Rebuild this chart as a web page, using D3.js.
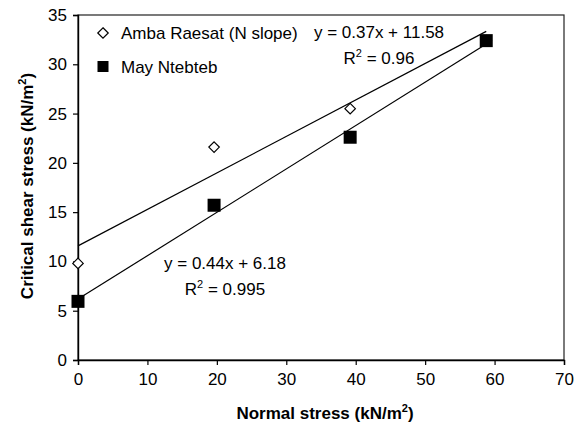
<!DOCTYPE html>
<html>
<head>
<meta charset="utf-8">
<script src="https://cdn.jsdelivr.net/npm/d3@7"></script>
<style>
body { margin: 0; background: #fff; }
text { font-family: "Liberation Sans", Arial, sans-serif; }
</style>
</head>
<body>
<svg id="chart" width="584" height="430"></svg>
<script>
// data
var normalStress = [0, 19.6, 39.2, 58.8];
var ambaShear = [9.8, 21.6, 25.5, 32.4];
var mayShear = [5.95, 15.7, 22.6, 32.4];
var ambaFit = {slope: 0.37, intercept: 11.58};
var mayFit = {slope: 0.44, intercept: 6.18};
var xTicks = [0, 10, 20, 30, 40, 50, 60, 70];
var yTicks = [0, 5, 10, 15, 20, 25, 30, 35];

var svg = d3.select("#chart");
var plotLeft = 78, plotRight = 564, plotTop = 15, plotBottom = 360;
var fs = "17px";

var x = d3.scaleLinear().domain([0, 70]).range([plotLeft, plotRight]);
var y = d3.scaleLinear().domain([0, 35]).range([plotBottom, plotTop]);

// frame
svg.append("rect")
    .attr("x", plotLeft).attr("y", plotTop)
    .attr("width", plotRight - plotLeft).attr("height", plotBottom - plotTop)
    .attr("fill", "none").attr("stroke", "#222").attr("stroke-width", 1.2);

var xAxis = svg.append("g")
    .attr("transform", "translate(0," + plotBottom + ")")
    .call(d3.axisBottom(x).tickValues(xTicks).tickSize(5).tickPadding(8));
var yAxis = svg.append("g")
    .attr("transform", "translate(" + plotLeft + ",0)")
    .call(d3.axisLeft(y).tickValues(yTicks).tickSize(5).tickPadding(6));

[xAxis, yAxis].forEach(function(a) {
    a.select(".domain").attr("stroke", "#000").attr("stroke-width", 1.4);
    a.selectAll(".tick line").attr("stroke", "#000").attr("stroke-width", 1.2);
    a.selectAll(".tick text")
        .attr("fill", "#000")
        .style("font-size", fs)
        .style("font-family", "Liberation Sans, Arial, sans-serif");
});

// trend lines
function fitLine(fit) {
    var x0 = normalStress[0], x1 = normalStress[normalStress.length - 1];
    return [[x0, fit.intercept + fit.slope * x0], [x1, fit.intercept + fit.slope * x1]];
}
var line = d3.line().x(d => x(d[0])).y(d => y(d[1]));
[ambaFit, mayFit].forEach(function(f) {
    svg.append("path")
        .attr("d", line(fitLine(f)))
        .attr("fill", "none")
        .attr("stroke", "#000")
        .attr("stroke-width", 1.2);
});

// markers
var diamond = d3.symbol().type(d3.symbolDiamond2).size(70);
svg.selectAll(".amba")
    .data(normalStress)
    .enter().append("path")
    .attr("class", "amba")
    .attr("transform", (d, i) => "translate(" + x(d) + "," + y(ambaShear[i]) + ")")
    .attr("d", diamond)
    .attr("fill", "#fff")
    .attr("stroke", "#000")
    .attr("stroke-width", 1.2);

var sq = 13;
svg.selectAll(".may")
    .data(normalStress)
    .enter().append("rect")
    .attr("class", "may")
    .attr("x", d => x(d) - sq / 2)
    .attr("y", (d, i) => y(mayShear[i]) - sq / 2)
    .attr("width", sq).attr("height", sq)
    .attr("fill", "#000");

// legend
svg.append("path")
    .attr("transform", "translate(103,33)")
    .attr("d", diamond)
    .attr("fill", "#fff").attr("stroke", "#000").attr("stroke-width", 1.2);
svg.append("text").attr("x", 121).attr("y", 39)
    .style("font-size", fs).text("Amba Raesat (N slope)");
svg.append("rect").attr("x", 97.5).attr("y", 61).attr("width", 11).attr("height", 11)
    .attr("fill", "#000");
svg.append("text").attr("x", 121).attr("y", 73)
    .style("font-size", fs).text("May Ntebteb");

// equations
function equation(cx, cy, eq, r2) {
    svg.append("text").attr("x", cx).attr("y", cy)
        .attr("text-anchor", "middle").style("font-size", fs).text(eq);
    var t = svg.append("text").attr("x", cx).attr("y", cy + 26)
        .attr("text-anchor", "middle").style("font-size", fs);
    t.append("tspan").text("R");
    t.append("tspan").attr("dy", -7).style("font-size", "11px").text("2");
    t.append("tspan").attr("dy", 7).text(" = " + r2);
}
equation(379, 38, "y = " + ambaFit.slope + "x + " + ambaFit.intercept, "0.96");
equation(225, 269, "y = " + mayFit.slope + "x + " + mayFit.intercept, "0.995");

// axis titles
var xt = svg.append("text").attr("x", 325).attr("y", 419)
    .attr("text-anchor", "middle")
    .style("font-size", fs).style("font-weight", "bold");
xt.append("tspan").text("Normal stress (kN/m");
xt.append("tspan").attr("dy", -7).style("font-size", "11px").text("2");
xt.append("tspan").attr("dy", 7).text(")");

var yt = svg.append("text")
    .attr("transform", "translate(33,186) rotate(-90)")
    .attr("text-anchor", "middle")
    .style("font-size", fs).style("font-weight", "bold");
yt.append("tspan").text("Critical shear stress (kN/m");
yt.append("tspan").attr("dy", -7).style("font-size", "11px").text("2");
yt.append("tspan").attr("dy", 7).text(")");
</script>
</body>
</html>
